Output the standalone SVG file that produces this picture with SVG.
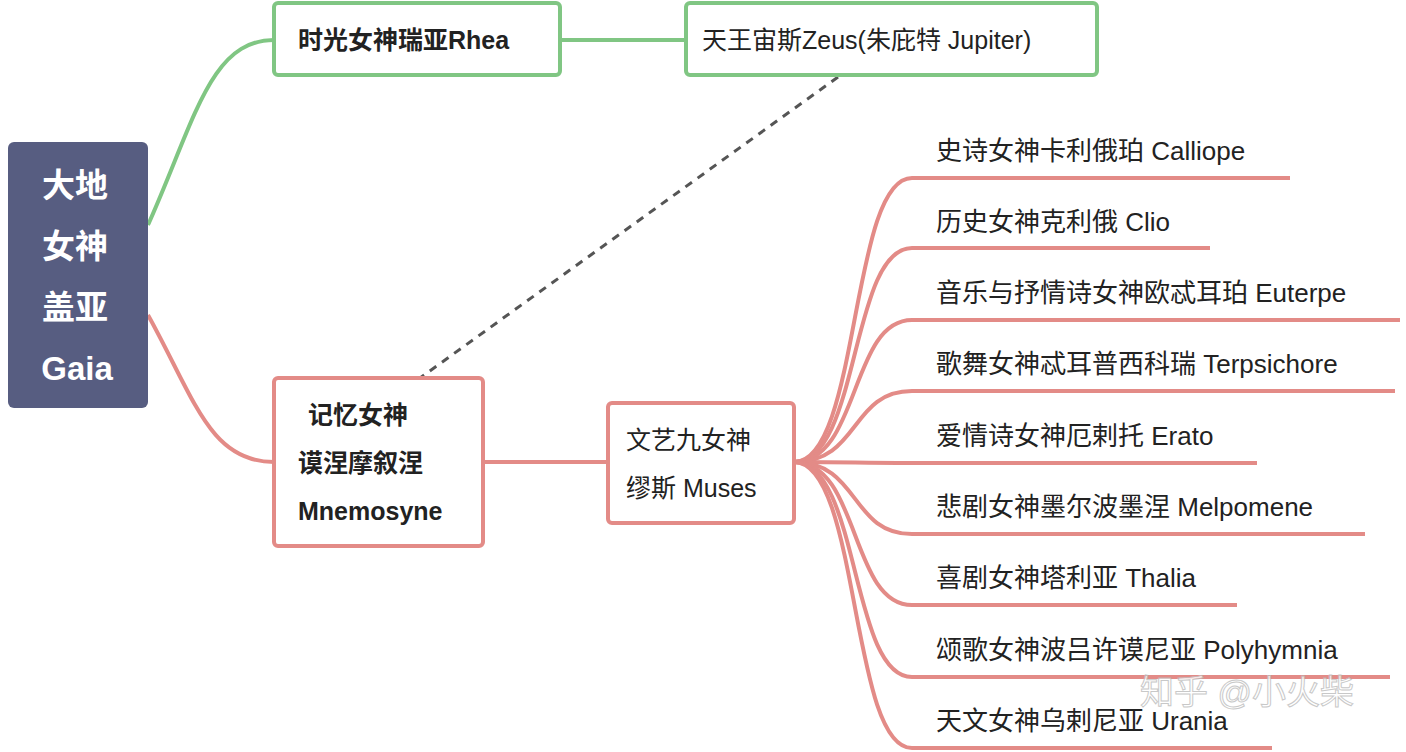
<svg xmlns="http://www.w3.org/2000/svg" width="1406" height="752" viewBox="0 0 1406 752">
<style>
text{font-family:"Liberation Sans","Noto Sans CJK SC",sans-serif;fill:#222}
.b{font-weight:bold}
.g{fill:#fff;stroke:#80c683;stroke-width:4}
.r{fill:#fff;stroke:#e38b87;stroke-width:4}
.cg{fill:none;stroke:#80c683;stroke-width:4}
.cr{fill:none;stroke:#e38b87;stroke-width:4}
.it{font-size:26px}
</style>
<rect width="1406" height="752" fill="#fff"/>
<g id="connectors">
<path class="cg" d="M148,225 C195,120 210,40 274,40"/>
<path class="cg" d="M560,40 H686"/>
<path d="M838,77 L420,378" fill="none" stroke="#555" stroke-width="3" stroke-dasharray="8,7"/>
<path class="cr" d="M148,315 C195,400 210,462 274,462"/>
<path class="cr" d="M483,462 H608"/>
<path class="cr" d="M794,462 C860,462 850,178 912,178 H1290"/>
<path class="cr" d="M794,462 C860,462 850,248 912,248 H1210"/>
<path class="cr" d="M794,462 C860,462 850,320 912,320 H1400"/>
<path class="cr" d="M794,462 C860,462 850,391 912,391 H1395"/>
<path class="cr" d="M794,462 C860,462 850,463 912,463 H1257"/>
<path class="cr" d="M794,462 C860,462 850,534 912,534 H1365"/>
<path class="cr" d="M794,462 C860,462 850,605 912,605 H1237"/>
<path class="cr" d="M794,462 C860,462 850,677 912,677 H1390"/>
<path class="cr" d="M794,462 C860,462 850,748 912,748 H1272"/>
</g>
<g id="gaia">
<rect x="8" y="142" width="140" height="266" rx="6" fill="#575d81"/>
<g font-size="33" text-anchor="middle">
<text x="75" y="197" class="b" style="fill:#fff">大地</text>
<text x="75" y="258" class="b" style="fill:#fff">女神</text>
<text x="75" y="319" class="b" style="fill:#fff">盖亚</text>
<text x="77" y="380" class="b" style="fill:#fff">Gaia</text>
</g>
</g>
<g id="rhea">
<rect class="g" x="274" y="3" width="286" height="72" rx="4"/>
<text class="b" x="298" y="49" font-size="25">时光女神瑞亚Rhea</text>
</g>
<g id="zeus">
<rect class="g" x="686" y="3" width="411" height="72" rx="4"/>
<text x="702" y="49" font-size="25">天王宙斯Zeus(朱庇特 Jupiter)</text>
</g>
<g id="mnemosyne">
<rect class="r" x="274" y="378" width="209" height="168" rx="4"/>
<text class="b" x="308" y="424" font-size="25">记忆女神</text>
<text class="b" x="298" y="472" font-size="25">谟涅摩叙涅</text>
<text class="b" x="298" y="520" font-size="25">Mnemosyne</text>
</g>
<g id="muses">
<rect class="r" x="608" y="403" width="186" height="120" rx="4"/>
<text x="626" y="449" font-size="25">文艺九女神</text>
<text x="626" y="497" font-size="25">缪斯 Muses</text>
</g>
<g id="items" class="it">
<text x="936" y="160">史诗女神卡利俄珀 Calliope</text>
<text x="936" y="231">历史女神克利俄 Clio</text>
<text x="936" y="302">音乐与抒情诗女神欧忒耳珀 Euterpe</text>
<text x="936" y="373">歌舞女神忒耳普西科瑞 Terpsichore</text>
<text x="936" y="445">爱情诗女神厄剌托 Erato</text>
<text x="936" y="516">悲剧女神墨尔波墨涅 Melpomene</text>
<text x="936" y="587">喜剧女神塔利亚 Thalia</text>
<text x="936" y="659">颂歌女神波吕许谟尼亚 Polyhymnia</text>
<text x="936" y="730">天文女神乌剌尼亚 Urania</text>
</g>
<text x="1140" y="704" font-size="34" style="fill:#fff;stroke:#bbb;stroke-width:1;opacity:0.8">知乎 @小火柴</text>
</svg>
